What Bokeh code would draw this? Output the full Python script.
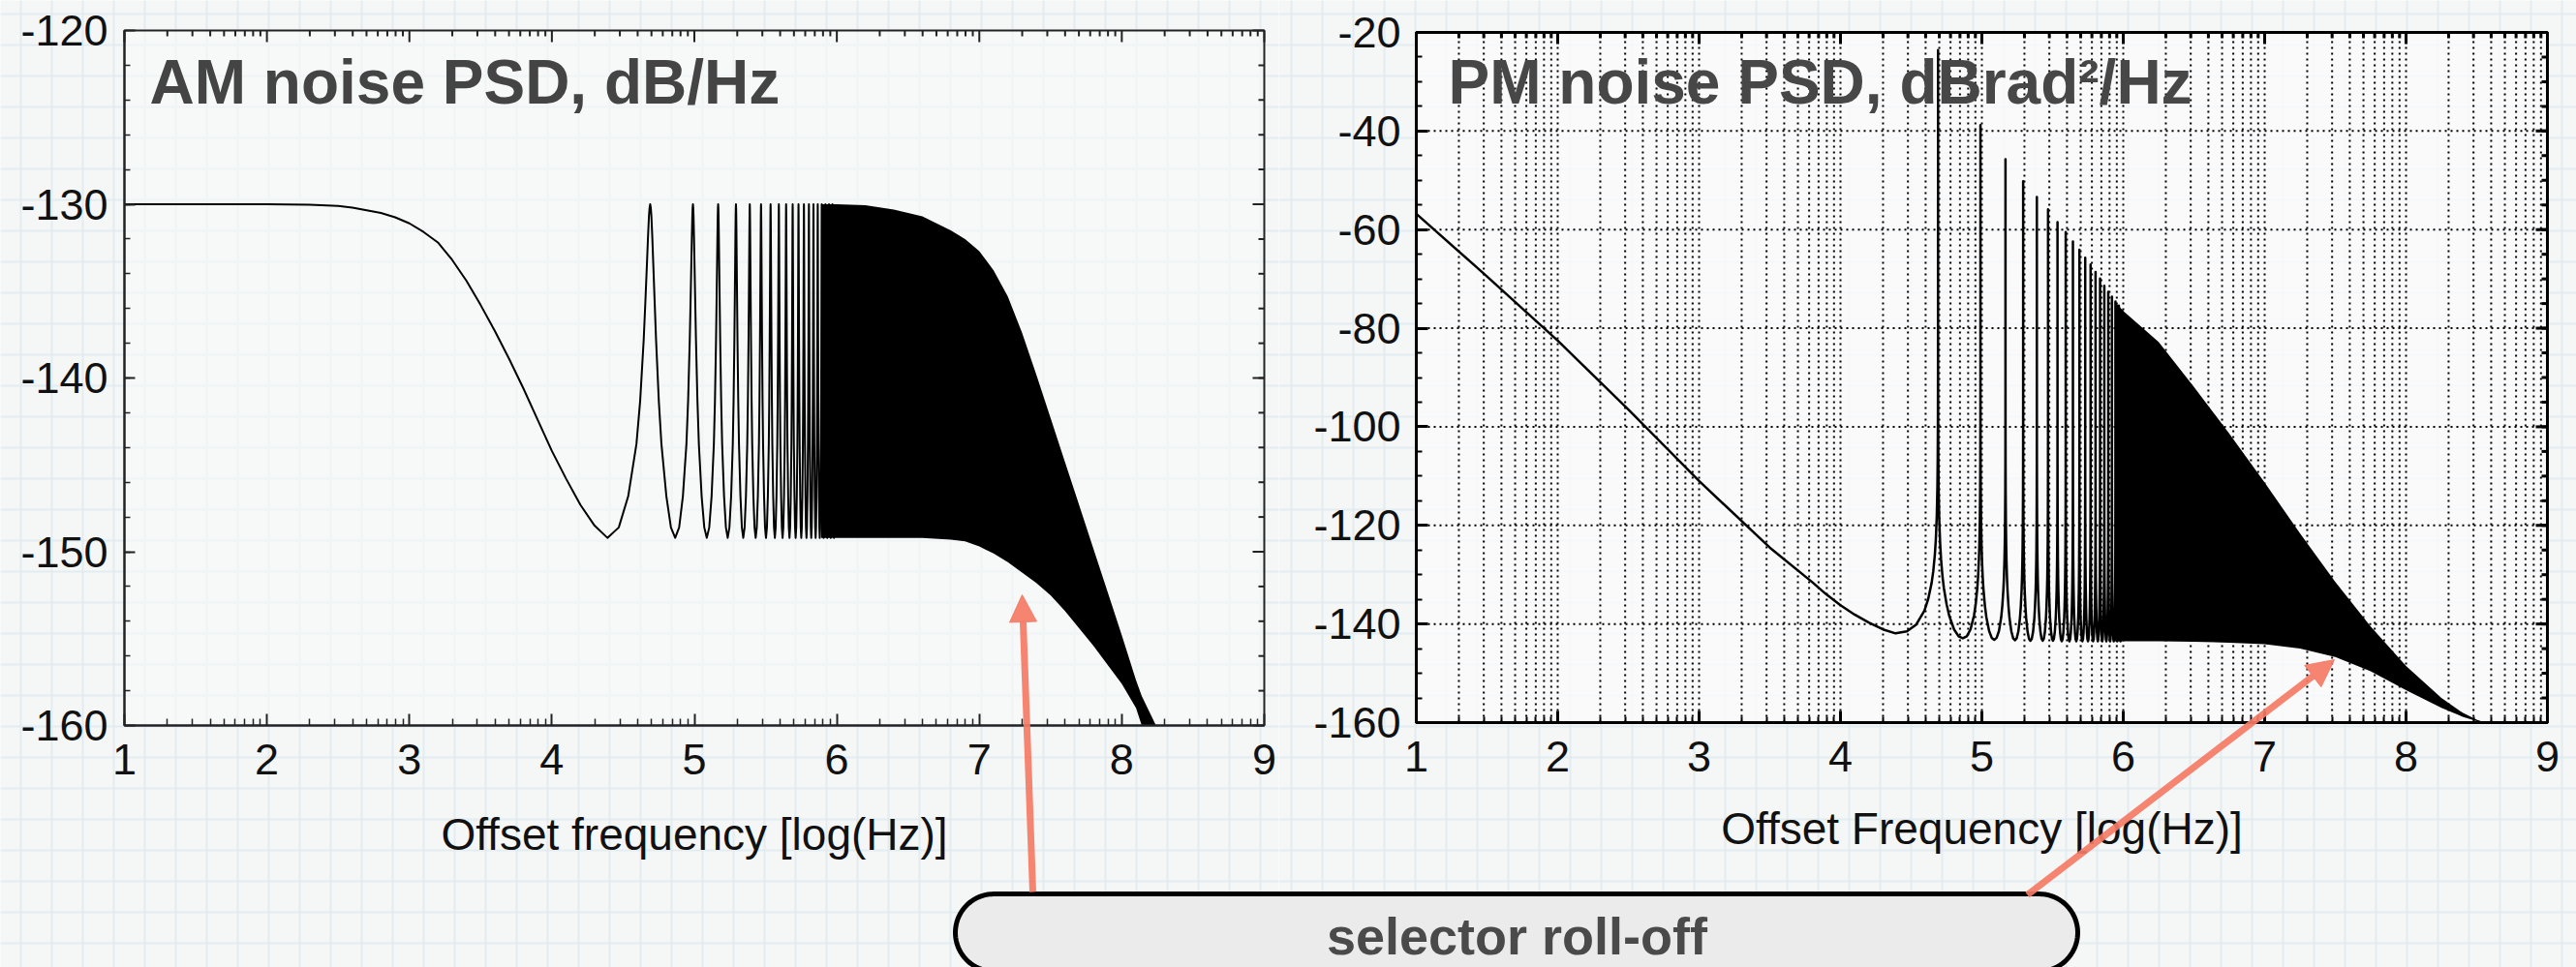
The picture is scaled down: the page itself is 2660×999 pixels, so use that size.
import numpy as np
from bokeh.plotting import figure
from bokeh.models import (Range1d, FixedTicker, Label, Arrow, NormalHead)
from bokeh.layouts import row
from bokeh.embed import file_html
from bokeh.resources import INLINE

# ------------------------------------------------------------------ data
x_ticks = [1, 2, 3, 4, 5, 6, 7, 8, 9]
x_tick_labels = ["1", "2", "3", "4", "5", "6", "7", "8", "9"]

am_y_ticks = [-160, -150, -140, -130, -120]
am_y_labels = ["-160", "-150", "-140", "-130", "-120"]
pm_y_ticks = [-160, -140, -120, -100, -80, -60, -40, -20]
pm_y_labels = ["-160", "-140", "-120", "-100", "-80", "-60", "-40", "-20"]

# resonance peaks (log10 Hz)
peak_x = [4.69, 4.99, 5.167, 5.292, 5.389, 5.468, 5.535, 5.593, 5.644, 5.69,
          5.731, 5.769, 5.804, 5.836, 5.866, 5.894, 5.92, 5.945, 5.969, 5.991]

# AM noise: smooth part below the first resonance
am_base_x = [1.0, 1.5, 2.0, 2.3, 2.5, 2.6, 2.7, 2.8, 2.9, 3.0, 3.1, 3.2, 3.3, 3.4, 3.5,
             3.6, 3.7, 3.8, 3.9, 4.0, 4.1, 4.2, 4.3, 4.39]
am_base_y = [-130.0, -130.0, -130.0, -130.03, -130.1, -130.2, -130.35, -130.5, -130.75,
             -131.1, -131.6, -132.2, -133.2, -134.4, -135.8, -137.3, -138.9, -140.6,
             -142.4, -144.2, -145.8, -147.3, -148.5, -149.2]
am_peak_level = -130.0
# lobe profile (fraction of peak spacing -> dB below peak)
am_lobe_delta = [0.0, 0.01, 0.02, 0.035, 0.05, 0.075, 0.1, 0.15, 0.2, 0.3, 0.4, 0.5]
am_lobe_drop = [0.0, 0.2, 0.7, 1.9, 3.3, 5.6, 7.8, 11.3, 13.8, 16.8, 18.6, 19.2]
# unresolved comb: envelopes
am_env_x = [5.89, 6.0, 6.2, 6.4, 6.6, 6.8, 6.9, 7.0, 7.1, 7.2, 7.3, 7.4, 7.5, 7.6, 7.7,
            7.8, 7.9, 8.0, 8.1, 8.14, 8.24]
am_env_hi = [-130.0, -130.0, -130.05, -130.3, -130.7, -131.5, -132.0, -132.7, -133.8,
             -135.3, -137.4, -139.8, -142.3, -144.8, -147.3, -149.8, -152.3, -154.8,
             -157.4, -158.3, -160.0]
am_env_lo = [-149.2, -149.2, -149.2, -149.2, -149.2, -149.3, -149.4, -149.7, -150.1,
             -150.6, -151.2, -151.8, -152.5, -153.4, -154.4, -155.4, -156.5, -157.6,
             -159.0, -160.0, -160.0]

# PM noise
pm_base_x = [1.0, 1.5, 2.0, 2.5, 3.0, 3.5, 3.8, 3.9, 4.0, 4.1, 4.2, 4.3, 4.39]
pm_base_y = [-56.8, -69.5, -82.5, -96.5, -111.0, -124.5, -131.5, -134.0, -136.2, -138.1,
             -139.7, -141.1, -141.9]
pm_peak_y = [-23.6, -38.8, -45.7, -50.2, -53.4, -55.9, -58.5, -60.5, -62.4, -64.1,
             -65.7, -67.1, -68.6, -69.9, -71.4, -72.6, -73.6, -74.6, -75.4, -76.2]
pm_trough_y = [-142.9, -143.2, -143.3, -143.4, -143.4, -143.4, -143.5, -143.5, -143.5, -143.5,
               -143.5, -143.5, -143.5, -143.5, -143.5, -143.5, -143.5, -143.5, -143.5]
# lobe profile (fraction of peak spacing -> dB above trough)
pm_lobe_delta = [0.0005, 0.002, 0.005, 0.01, 0.02, 0.035, 0.05, 0.075, 0.1, 0.15, 0.2, 0.3, 0.4, 0.5]
pm_lobe_rise = [55.0, 44.0, 36.0, 30.0, 24.0, 19.2, 16.1, 12.6, 10.2, 6.9, 4.6, 1.8, 0.4, 0.0]
pm_env_x = [5.94, 6.0, 6.25, 6.5, 6.75, 7.0, 7.25, 7.5, 7.75, 8.0, 8.25, 8.4, 8.5, 8.56]
pm_env_hi = [-74.6, -76.5, -82.8, -91.9, -101.4, -111.3, -121.6, -131.5, -140.5,
             -148.5, -155.0, -158.0, -159.4, -160.0]
pm_env_lo = [-143.5, -143.5, -143.5, -143.6, -143.8, -144.1, -145.0, -146.7, -149.6,
             -153.4, -157.0, -158.8, -159.7, -160.0]

AM_TITLE = "AM noise PSD, dB/Hz"
PM_TITLE = "PM noise PSD, dBrad\u00b2/Hz"
AM_XLABEL = "Offset frequency [log(Hz)]"
PM_XLABEL = "Offset Frequency [log(Hz)]"
NOTE = "selector roll-off"

# ------------------------------------------------------------------ build curves
def am_curve():
    xs, ys = list(am_base_x), list(am_base_y)
    f = [10 ** p for p in peak_x]
    span = f[1] - f[0]
    prof = list(zip(am_lobe_delta, am_lobe_drop))
    for d, dr in reversed(prof[:-1]):
        xs.append(np.log10(f[0] - d * span)); ys.append(am_peak_level - dr)
    for k in range(len(f) - 1):
        span = f[k + 1] - f[k]
        for d, dr in prof[1:]:
            xs.append(np.log10(f[k] + d * span)); ys.append(am_peak_level - dr)
        for d, dr in reversed(prof[:-1]):
            xs.append(np.log10(f[k + 1] - d * span)); ys.append(am_peak_level - dr)
    return xs, ys


def pm_curve():
    xs, ys = list(pm_base_x), list(pm_base_y)
    f = [10 ** p for p in peak_x]
    prof = list(zip(pm_lobe_delta, pm_lobe_rise))
    span = f[1] - f[0]
    tr = pm_base_y[-1]
    for d, r in reversed(prof[:-1]):
        xs.append(np.log10(f[0] - d * span)); ys.append(min(tr + r, pm_peak_y[0]))
    xs.append(peak_x[0]); ys.append(pm_peak_y[0])
    for k in range(len(f) - 1):
        span = f[k + 1] - f[k]
        tr = pm_trough_y[k]
        for d, r in prof:
            xs.append(np.log10(f[k] + d * span)); ys.append(min(tr + r, pm_peak_y[k]))
        for d, r in reversed(prof[:-1]):
            xs.append(np.log10(f[k + 1] - d * span)); ys.append(min(tr + r, pm_peak_y[k + 1]))
        xs.append(peak_x[k + 1]); ys.append(pm_peak_y[k + 1])
    return xs, ys

# ------------------------------------------------------------------ layout (page pixels)
W, H = 2660, 999
W1 = 1320
W2 = W - W1
L_FR = dict(left=128, right=1305, top=31, bottom=749)
R_FR = dict(left=1462, right=2630, top=33, bottom=746)

BG = "#f5f6f6"
SALMON = "#f47a64"
FONT = "Liberation Sans"
TXT_SHIFT = 0.406   # label anchor correction, in em


def make_conv(fr, xr, yr):
    def cx(gx):
        return xr[0] + (gx - fr["left"]) * (xr[1] - xr[0]) / (fr["right"] - fr["left"])

    def cy(gy):
        return yr[1] - (gy - fr["top"]) * (yr[1] - yr[0]) / (fr["bottom"] - fr["top"])
    return cx, cy


minor_x = [n + np.log10(k) for n in range(1, 9) for k in range(2, 10)]


def axis_style(ax, ticks, labels, minor, loc, bounds, tick_w, major_in, minor_in, color, standoff):
    ax.fixed_location = loc
    ax.bounds = bounds
    ax.ticker = FixedTicker(ticks=ticks, minor_ticks=minor)
    ax.major_label_overrides = {t: l for t, l in zip(ticks, labels)}
    ax.axis_line_color = color
    ax.axis_line_width = tick_w
    ax.major_tick_line_color = color
    ax.minor_tick_line_color = color
    ax.major_tick_line_width = tick_w
    ax.minor_tick_line_width = max(1.5, tick_w - 1)
    ax.major_tick_in = major_in
    ax.major_tick_out = 0
    ax.minor_tick_in = minor_in
    ax.minor_tick_out = 0
    ax.major_label_text_font = FONT
    ax.major_label_text_font_size = "45px"
    ax.major_label_text_color = "#111111"
    ax.major_label_standoff = standoff


def make_fig(width, cx, cy, x0px, x1px):
    fig = figure(width=width, height=H,
                 x_range=Range1d(cx(x0px), cx(x1px)), y_range=Range1d(cy(H), cy(0)),
                 output_backend="svg", toolbar_location=None, min_border=0,
                 background_fill_color=BG, border_fill_color=BG, outline_line_color=None)
    fig.grid.visible = False
    # faint slide grid behind everything
    gx = [21 + 32 * k for k in range(84)]
    gy = [14 + 32 * k for k in range(32)]
    fig.segment(x0=[cx(g) for g in gx], x1=[cx(g) for g in gx],
                y0=[cy(-10)] * len(gx), y1=[cy(H + 10)] * len(gx),
                line_color="#dfeaef", line_width=2, line_alpha=0.8, level="image")
    fig.segment(x0=[cx(-10)] * len(gy), x1=[cx(W + 10)] * len(gy),
                y0=[cy(g) for g in gy], y1=[cy(g) for g in gy],
                line_color="#dfeaef", line_width=2, line_alpha=0.8, level="image")
    return fig


def mirror_ticks(fig, cx, cy, yr, yticks, yminor, color, w, maj, mnr):
    dxp = (cx(1) - cx(0))
    dyp = (cy(0) - cy(1))
    top = yr[1]
    xs = x_ticks + minor_x
    ln = [maj] * len(x_ticks) + [mnr] * len(minor_x)
    fig.segment(x0=xs, x1=xs, y0=[top] * len(xs), y1=[top - l * dyp for l in ln],
                line_color=color, line_width=w)
    ys = yticks + yminor
    ln = [maj] * len(yticks) + [mnr] * len(yminor)
    fig.segment(x0=[9] * len(ys), x1=[9 - l * dxp for l in ln], y0=ys, y1=ys,
                line_color=color, line_width=w)


# pill-shaped callout box (page pixels): left, right, top, bottom
PILL = (986, 2145, 923, 1003)


def pill(fig, cx, cy):
    l, r, t, b = PILL
    rad = (b - t) / 2.0
    yc = t + rad
    ang = np.linspace(0, np.pi, 40)
    # right cap (top -> bottom), then left cap (bottom -> top)
    px = list(r - rad + rad * np.sin(ang)) + list(l + rad - rad * np.sin(ang))
    py = list(yc - rad * np.cos(ang)) + list(yc + rad * np.cos(ang))
    fig.patch([cx(v) for v in px], [cy(v) for v in py], fill_color="#ebebeb",
              line_color="black", line_width=5, line_join="round", level="guide")


def arrow(fig, cx, cy, p0, p1):
    fig.add_layout(Arrow(x_start=cx(p0[0]), y_start=cy(p0[1]), x_end=cx(p1[0]), y_end=cy(p1[1]),
                         line_color=SALMON, line_width=7, line_alpha=0.92,
                         end=NormalHead(size=28, fill_color=SALMON, line_color=SALMON,
                                        fill_alpha=0.92, line_alpha=0.92)))


def text_label(fig, cx, cy, gx, gy_base, text, size, color, align="left"):
    fig.add_layout(Label(x=cx(gx), y=cy(gy_base - TXT_SHIFT * size), text=text, text_font=FONT,
                         text_font_size=f"{size}px", text_font_style="bold", text_color=color,
                         text_baseline="alphabetic", text_align=align, level="overlay"))


# ------------------------------------------------------------------ left: AM
lxr, lyr = (1, 9), (-160, -120)
lcx, lcy = make_conv(L_FR, lxr, lyr)
lf = make_fig(W1, lcx, lcy, 0, W1)
lf.quad(left=[1], right=[9], bottom=[-160], top=[-120], fill_color="#f9fafa",
        fill_alpha=0.6, line_color=None, level="image")
lc = "#222222"
axis_style(lf.xaxis[0], x_ticks, x_tick_labels, minor_x, -160, (1, 9), 2, 12, 7, lc, 19)
axis_style(lf.yaxis[0], am_y_ticks, am_y_labels, list(range(-158, -120, 2)), 1, (-160, -120),
           2, 11, 6, lc, 17)
lf.xaxis[0].axis_label = AM_XLABEL
lf.xaxis[0].axis_label_text_font = FONT
lf.xaxis[0].axis_label_text_font_size = "46px"
lf.xaxis[0].axis_label_text_font_style = "normal"
lf.xaxis[0].axis_label_text_color = "#111111"
lf.xaxis[0].axis_label_standoff = 33

ax_, ay_ = am_curve()
lf.varea(x=am_env_x, y1=am_env_lo, y2=am_env_hi, fill_color="black")
lf.line(ax_, ay_, line_color="black", line_width=2, line_join="round")
lf.quad(left=[1], right=[9], bottom=[-160], top=[-120], fill_color=None,
        line_color=lc, line_width=2)
mirror_ticks(lf, lcx, lcy, lyr, am_y_ticks, list(range(-158, -120, 2)), lc, 2, 12, 6)
text_label(lf, lcx, lcy, 154, 110, AM_TITLE, 64, "#444444")
pill(lf, lcx, lcy)
arrow(lf, lcx, lcy, (1066, 921), (1055, 614))

# ------------------------------------------------------------------ right: PM
rxr, ryr = (1, 9), (-160, -20)
rcx, rcy = make_conv(R_FR, rxr, ryr)
rf = make_fig(W2, rcx, rcy, W1, W)
rf.quad(left=[1], right=[9], bottom=[-160], top=[-20], fill_color="#fcfcfc",
        fill_alpha=0.7, line_color=None, level="image")
rc = "black"
# dotted grid inside the frame
gxs = x_ticks + minor_x
rf.segment(x0=gxs, x1=gxs, y0=[-160] * len(gxs), y1=[-20] * len(gxs),
           line_color="black", line_width=2, line_dash="2 4", level="underlay")
rf.segment(x0=[1] * len(pm_y_ticks), x1=[9] * len(pm_y_ticks), y0=pm_y_ticks, y1=pm_y_ticks,
           line_color="black", line_width=2, line_dash="2 4", level="underlay")
axis_style(rf.xaxis[0], x_ticks, x_tick_labels, minor_x, -160, (1, 9), 3, 12, 6, rc, 19)
axis_style(rf.yaxis[0], pm_y_ticks, pm_y_labels, list(range(-155, -20, 5)), 1, (-160, -20),
           3, 12, 6, rc, 16)
rf.xaxis[0].axis_label = PM_XLABEL
rf.xaxis[0].axis_label_text_font = FONT
rf.xaxis[0].axis_label_text_font_size = "46px"
rf.xaxis[0].axis_label_text_font_style = "normal"
rf.xaxis[0].axis_label_text_color = "#111111"
rf.xaxis[0].axis_label_standoff = 30

px_, py_ = pm_curve()
rf.varea(x=pm_env_x, y1=pm_env_lo, y2=pm_env_hi, fill_color="black")
rf.line(px_, py_, line_color="black", line_width=2.5, line_join="round")
rf.quad(left=[1], right=[9], bottom=[-160], top=[-20], fill_color=None,
        line_color=rc, line_width=3)
mirror_ticks(rf, rcx, rcy, ryr, pm_y_ticks, list(range(-155, -20, 5)), rc, 3, 12, 6)
text_label(rf, rcx, rcy, 1495, 110, PM_TITLE, 64, "#474747")
pill(rf, rcx, rcy)
arrow(rf, rcx, rcy, (2093, 924), (2410, 681))
text_label(rf, rcx, rcy, 1566, 988, NOTE, 54, "#4a4a4a", align="center")

layout = row(lf, rf, spacing=0)
open("out.html", "w").write(file_html(layout, INLINE))
